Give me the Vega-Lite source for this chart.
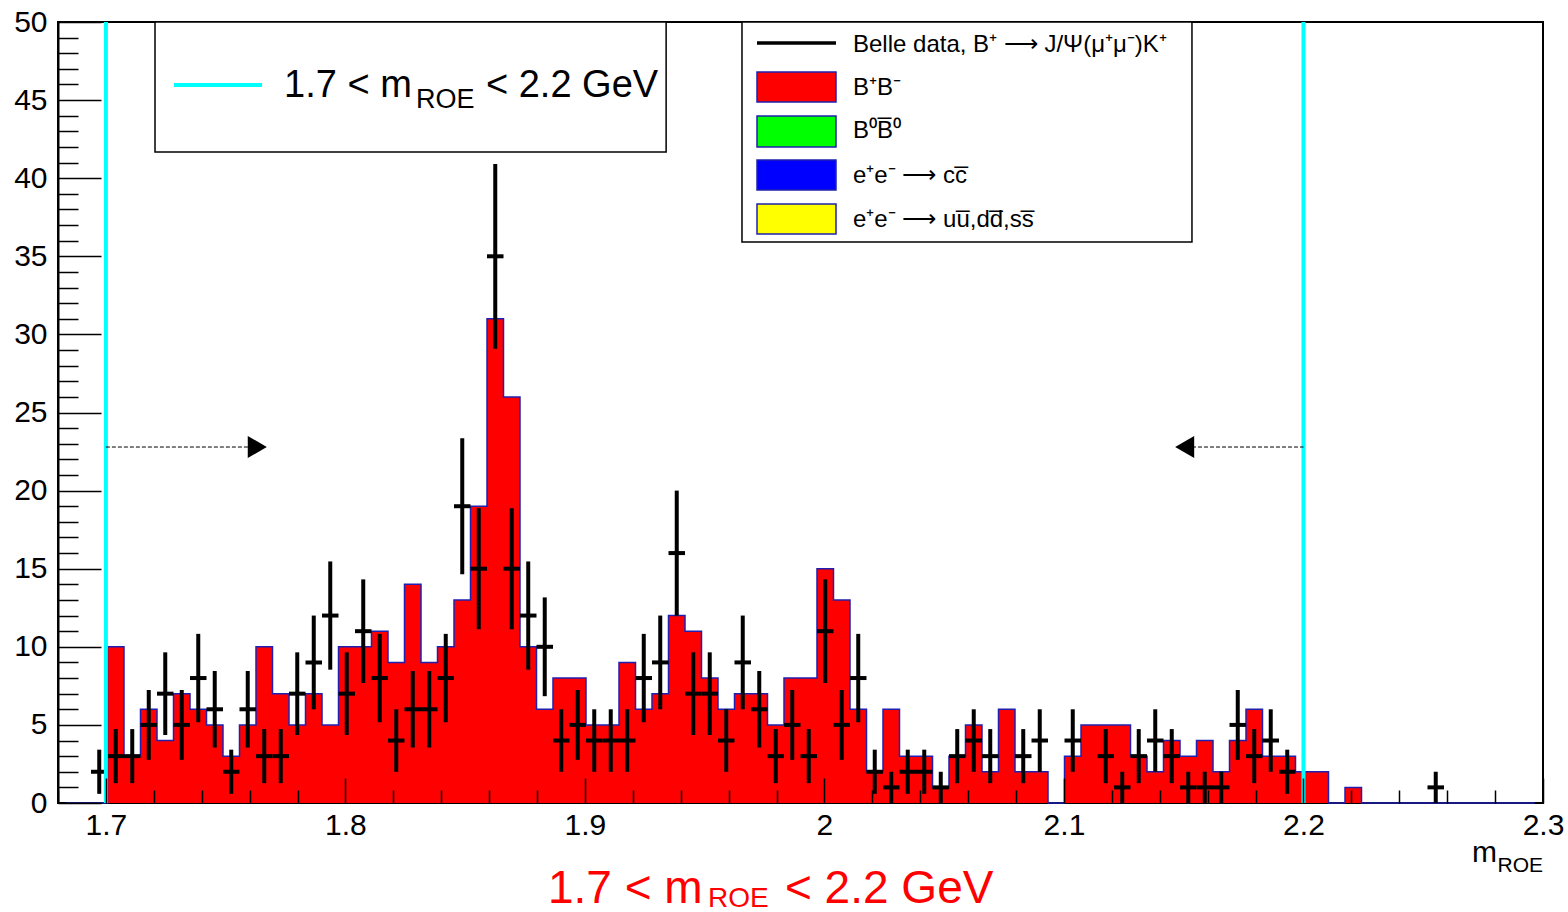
{
  "$schema": "https://vega.github.io/schema/vega-lite/v6.json",
  "width": 1485,
  "height": 781,
  "autosize": {"type": "none"},
  "padding": {"left": 58, "top": 22, "right": 25, "bottom": 109},
  "background": "white",
  "config": {
    "view": {"stroke": "#000000", "strokeWidth": 2},
    "font": "Liberation Sans",
    "text": {"font": "Liberation Sans", "color": "#000000"},
    "axisX": {"tickCount": 31, "grid": false, "domain": false, "labelFontSize": 30, "labelColor": "#000000", "tickColor": "#000000", "tickWidth": 1.5, "labelOverlap": false, "labelFlush": false, "labelBound": false, "zindex": 1},
    "axisY": {"tickCount": 50, "grid": false, "domainColor": "#000000", "domainWidth": 2, "labelFontSize": 30, "labelColor": "#000000", "tickColor": "#000000", "tickWidth": 1.5, "labelOverlap": false, "labelFlush": false, "labelBound": false, "zindex": 1}
  },
  "datasets": {
    "bins": [
      {"m": 1.68344, "mc": 0, "n": 0, "e": 0},
      {"m": 1.69033, "mc": 0, "n": 0, "e": 0},
      {"m": 1.69722, "mc": 0, "n": 2, "e": 1.414},
      {"m": 1.70411, "mc": 10, "n": 3, "e": 1.732},
      {"m": 1.711, "mc": 3, "n": 3, "e": 1.732},
      {"m": 1.71789, "mc": 6, "n": 5, "e": 2.236},
      {"m": 1.72478, "mc": 4, "n": 7, "e": 2.646},
      {"m": 1.73167, "mc": 7, "n": 5, "e": 2.236},
      {"m": 1.73856, "mc": 6, "n": 8, "e": 2.828},
      {"m": 1.74544, "mc": 5, "n": 6, "e": 2.449},
      {"m": 1.75233, "mc": 3, "n": 2, "e": 1.414},
      {"m": 1.75922, "mc": 5, "n": 6, "e": 2.449},
      {"m": 1.76611, "mc": 10, "n": 3, "e": 1.732},
      {"m": 1.773, "mc": 7, "n": 3, "e": 1.732},
      {"m": 1.77989, "mc": 5, "n": 7, "e": 2.646},
      {"m": 1.78678, "mc": 7, "n": 9, "e": 3.0},
      {"m": 1.79367, "mc": 5, "n": 12, "e": 3.464},
      {"m": 1.80056, "mc": 10, "n": 7, "e": 2.646},
      {"m": 1.80744, "mc": 10, "n": 11, "e": 3.317},
      {"m": 1.81433, "mc": 11, "n": 8, "e": 2.828},
      {"m": 1.82122, "mc": 9, "n": 4, "e": 2.0},
      {"m": 1.82811, "mc": 14, "n": 6, "e": 2.449},
      {"m": 1.835, "mc": 9, "n": 6, "e": 2.449},
      {"m": 1.84189, "mc": 10, "n": 8, "e": 2.828},
      {"m": 1.84878, "mc": 13, "n": 19, "e": 4.359},
      {"m": 1.85567, "mc": 19, "n": 15, "e": 3.873},
      {"m": 1.86256, "mc": 31, "n": 35, "e": 5.916},
      {"m": 1.86944, "mc": 26, "n": 15, "e": 3.873},
      {"m": 1.87633, "mc": 10, "n": 12, "e": 3.464},
      {"m": 1.88322, "mc": 6, "n": 10, "e": 3.162},
      {"m": 1.89011, "mc": 8, "n": 4, "e": 2.0},
      {"m": 1.897, "mc": 8, "n": 5, "e": 2.236},
      {"m": 1.90389, "mc": 5, "n": 4, "e": 2.0},
      {"m": 1.91078, "mc": 5, "n": 4, "e": 2.0},
      {"m": 1.91767, "mc": 9, "n": 4, "e": 2.0},
      {"m": 1.92456, "mc": 6, "n": 8, "e": 2.828},
      {"m": 1.93144, "mc": 7, "n": 9, "e": 3.0},
      {"m": 1.93833, "mc": 12, "n": 16, "e": 4.0},
      {"m": 1.94522, "mc": 11, "n": 7, "e": 2.646},
      {"m": 1.95211, "mc": 8, "n": 7, "e": 2.646},
      {"m": 1.959, "mc": 6, "n": 4, "e": 2.0},
      {"m": 1.96589, "mc": 7, "n": 9, "e": 3.0},
      {"m": 1.97278, "mc": 7, "n": 6, "e": 2.449},
      {"m": 1.97967, "mc": 5, "n": 3, "e": 1.732},
      {"m": 1.98656, "mc": 8, "n": 5, "e": 2.236},
      {"m": 1.99344, "mc": 8, "n": 3, "e": 1.732},
      {"m": 2.00033, "mc": 15, "n": 11, "e": 3.317},
      {"m": 2.00722, "mc": 13, "n": 5, "e": 2.236},
      {"m": 2.01411, "mc": 6, "n": 8, "e": 2.828},
      {"m": 2.021, "mc": 2, "n": 2, "e": 1.414},
      {"m": 2.02789, "mc": 6, "n": 1, "e": 1.0},
      {"m": 2.03478, "mc": 3, "n": 2, "e": 1.414},
      {"m": 2.04167, "mc": 3, "n": 2, "e": 1.414},
      {"m": 2.04856, "mc": 1, "n": 1, "e": 1.0},
      {"m": 2.05544, "mc": 3, "n": 3, "e": 1.732},
      {"m": 2.06233, "mc": 5, "n": 4, "e": 2.0},
      {"m": 2.06922, "mc": 2, "n": 3, "e": 1.732},
      {"m": 2.07611, "mc": 6, "n": 0, "e": 0},
      {"m": 2.083, "mc": 2, "n": 3, "e": 1.732},
      {"m": 2.08989, "mc": 2, "n": 4, "e": 2.0},
      {"m": 2.09678, "mc": 0, "n": 0, "e": 0},
      {"m": 2.10367, "mc": 3, "n": 4, "e": 2.0},
      {"m": 2.11056, "mc": 5, "n": 0, "e": 0},
      {"m": 2.11744, "mc": 5, "n": 3, "e": 1.732},
      {"m": 2.12433, "mc": 5, "n": 1, "e": 1.0},
      {"m": 2.13122, "mc": 3, "n": 3, "e": 1.732},
      {"m": 2.13811, "mc": 2, "n": 4, "e": 2.0},
      {"m": 2.145, "mc": 4, "n": 3, "e": 1.732},
      {"m": 2.15189, "mc": 3, "n": 1, "e": 1.0},
      {"m": 2.15878, "mc": 4, "n": 1, "e": 1.0},
      {"m": 2.16567, "mc": 2, "n": 1, "e": 1.0},
      {"m": 2.17256, "mc": 4, "n": 5, "e": 2.236},
      {"m": 2.17944, "mc": 6, "n": 3, "e": 1.732},
      {"m": 2.18633, "mc": 3, "n": 4, "e": 2.0},
      {"m": 2.19322, "mc": 3, "n": 2, "e": 1.414},
      {"m": 2.20011, "mc": 2, "n": 0, "e": 0},
      {"m": 2.207, "mc": 2, "n": 0, "e": 0},
      {"m": 2.21389, "mc": 0, "n": 0, "e": 0},
      {"m": 2.22078, "mc": 1, "n": 0, "e": 0},
      {"m": 2.22767, "mc": 0, "n": 0, "e": 0},
      {"m": 2.23456, "mc": 0, "n": 0, "e": 0},
      {"m": 2.24144, "mc": 0, "n": 0, "e": 0},
      {"m": 2.24833, "mc": 0, "n": 0, "e": 0},
      {"m": 2.25522, "mc": 0, "n": 1, "e": 1.0},
      {"m": 2.26211, "mc": 0, "n": 0, "e": 0},
      {"m": 2.269, "mc": 0, "n": 0, "e": 0},
      {"m": 2.27589, "mc": 0, "n": 0, "e": 0},
      {"m": 2.28278, "mc": 0, "n": 0, "e": 0},
      {"m": 2.28967, "mc": 0, "n": 0, "e": 0},
      {"m": 2.29656, "mc": 0, "n": 0, "e": 0}
    ],
    "one": [{}]
  },
  "layer": [
    {
      "data": {"name": "bins"},
      "mark": {"type": "area", "interpolate": "step", "color": "#ff0000", "opacity": 1, "fillOpacity": 1, "line": {"color": "#2020b0", "strokeWidth": 1.5}},
      "encoding": {
        "x": {
          "field": "m", "type": "quantitative",
          "scale": {"domain": [1.68, 2.3], "nice": false, "zero": false},
          "axis": {
            "title": null, "zindex": 1, "grid": false, "domain": false, "tickCount": 31,
            "tickSize": {"condition": {"test": "abs(datum.value*10 - round(datum.value*10)) < 0.001", "value": -25}, "value": -13},
            "tickColor": "#000000", "tickWidth": 1.5,
            "labelExpr": "abs(datum.value*10 - round(datum.value*10)) < 0.001 ? format(datum.value, '.1~f') : ''",
            "labelFont": "Liberation Sans", "labelFontSize": 30, "labelColor": "#000000",
            "labelPadding": 32, "labelOverlap": false, "labelFlush": false, "labelBound": false
          }
        },
        "y": {
          "field": "mc", "type": "quantitative", "stack": null,
          "scale": {"domain": [0, 50], "nice": false},
          "axis": {
            "title": null, "zindex": 1, "grid": false, "domain": true, "domainColor": "#000000", "domainWidth": 2, "tickCount": 50,
            "tickSize": {"condition": {"test": "datum.value % 5 === 0", "value": -43}, "value": -20},
            "tickColor": "#000000", "tickWidth": 1.5,
            "labelExpr": "datum.value % 5 === 0 ? datum.label : ''",
            "labelFont": "Liberation Sans", "labelFontSize": 30, "labelColor": "#000000",
            "labelPadding": 54, "labelOverlap": false, "labelBound": false, "labelFlush": false
          }
        }
      }
    },
    {
      "data": {"name": "bins"},
      "transform": [{"filter": "datum.n > 0"}],
      "mark": {"type": "errorbar", "color": "#000000", "thickness": 4},
      "encoding": {
        "x": {"field": "m", "type": "quantitative"},
        "y": {"field": "n", "type": "quantitative"},
        "yError": {"field": "e"}
      }
    },
    {
      "data": {"name": "bins"},
      "transform": [{"filter": "datum.n > 0"}],
      "mark": {"type": "tick", "orient": "horizontal", "size": 16.5, "thickness": 4, "color": "#000000", "opacity": 1},
      "encoding": {
        "x": {"field": "m", "type": "quantitative"},
        "y": {"field": "n", "type": "quantitative"}
      }
    },
    {
      "data": {"values": [{"cut": 1.7}, {"cut": 2.2}]},
      "mark": {"type": "rule", "color": "#00ffff", "strokeWidth": 4},
      "encoding": {"x": {"field": "cut", "type": "quantitative"}}
    },
    {
      "data": {"name": "one"},
      "mark": {"type": "rule", "color": "#000000", "strokeWidth": 1, "strokeDash": [4, 2]},
      "encoding": {"x": {"datum": 1.7}, "x2": {"datum": 1.76016}, "y": {"datum": 22.79}}
    },
    {
      "data": {"name": "one"},
      "mark": {"type": "rule", "color": "#000000", "strokeWidth": 1, "strokeDash": [4, 2]},
      "encoding": {"x": {"datum": 2.14844}, "x2": {"datum": 2.2}, "y": {"datum": 22.79}}
    },
    {
      "data": {"name": "one"},
      "mark": {"type": "point", "shape": "triangle-right", "filled": true, "color": "#000000", "size": 484, "opacity": 1},
      "encoding": {"x": {"datum": 1.76321}, "y": {"datum": 22.79}}
    },
    {
      "data": {"name": "one"},
      "mark": {"type": "point", "shape": "triangle-left", "filled": true, "color": "#000000", "size": 484, "opacity": 1},
      "encoding": {"x": {"datum": 2.1504}, "y": {"datum": 22.79}}
    },
    {
      "data": {"name": "one"},
      "mark": {"type": "rect", "fill": "#ffffff", "stroke": "#000000", "strokeWidth": 1.5},
      "encoding": {"x": {"datum": 1.7205}, "x2": {"datum": 1.9339}, "y": {"datum": 41.68}, "y2": {"datum": 50}}
    },
    {
      "data": {"name": "one"},
      "mark": {"type": "rule", "color": "#00ffff", "strokeWidth": 4},
      "encoding": {"x": {"datum": 1.7284}, "x2": {"datum": 1.7652}, "y": {"datum": 45.97}}
    },
    {
      "data": {"name": "one"},
      "mark": {"type": "text", "text": "1.7 < m", "fontSize": 38, "align": "left", "baseline": "alphabetic"},
      "encoding": {"x": {"datum": 1.77436}, "y": {"datum": 45.2}}
    },
    {
      "data": {"name": "one"},
      "mark": {"type": "text", "text": "ROE", "fontSize": 27, "align": "left", "baseline": "alphabetic"},
      "encoding": {"x": {"datum": 1.82947}, "y": {"datum": 44.49}}
    },
    {
      "data": {"name": "one"},
      "mark": {"type": "text", "text": "< 2.2 GeV", "fontSize": 38, "align": "left", "baseline": "alphabetic"},
      "encoding": {"x": {"datum": 1.85869}, "y": {"datum": 45.2}}
    },
    {
      "data": {"name": "one"},
      "mark": {"type": "rect", "fill": "#ffffff", "stroke": "#000000", "strokeWidth": 1.5},
      "encoding": {"x": {"datum": 1.96557}, "x2": {"datum": 2.15344}, "y": {"datum": 35.916}, "y2": {"datum": 50}}
    },
    {
      "data": {"name": "one"},
      "mark": {"type": "rule", "color": "#000000", "strokeWidth": 3.5},
      "encoding": {"x": {"datum": 1.97184}, "x2": {"datum": 2.00482}, "y": {"datum": 48.656}}
    },
    {
      "data": {"name": "one"},
      "mark": {"type": "rect", "fill": "#ff0000", "stroke": "#2020b0", "strokeWidth": 1.5},
      "encoding": {"x": {"datum": 1.97184}, "x2": {"datum": 2.00482}, "y": {"datum": 44.88}, "y2": {"datum": 46.8}}
    },
    {
      "data": {"name": "one"},
      "mark": {"type": "rect", "fill": "#00ff00", "stroke": "#2020b0", "strokeWidth": 1.5},
      "encoding": {"x": {"datum": 1.97184}, "x2": {"datum": 2.00482}, "y": {"datum": 41.99}, "y2": {"datum": 43.98}}
    },
    {
      "data": {"name": "one"},
      "mark": {"type": "rect", "fill": "#0000ff", "stroke": "#2020b0", "strokeWidth": 1.5},
      "encoding": {"x": {"datum": 1.97184}, "x2": {"datum": 2.00482}, "y": {"datum": 39.24}, "y2": {"datum": 41.17}}
    },
    {
      "data": {"name": "one"},
      "mark": {"type": "rect", "fill": "#ffff00", "stroke": "#2020b0", "strokeWidth": 1.5},
      "encoding": {"x": {"datum": 1.97184}, "x2": {"datum": 2.00482}, "y": {"datum": 36.43}, "y2": {"datum": 38.35}}
    },
    {
      "data": {"name": "one"},
      "mark": {"type": "text", "text": "Belle data, B⁺ ⟶ J/Ψ(μ⁺μ⁻)K⁺", "fontSize": 24, "align": "left", "baseline": "middle"},
      "encoding": {"x": {"datum": 2.01192}, "y": {"datum": 48.528}}
    },
    {
      "data": {"name": "one"},
      "mark": {"type": "text", "text": "B⁺B⁻", "fontSize": 24, "align": "left", "baseline": "middle"},
      "encoding": {"x": {"datum": 2.01192}, "y": {"datum": 45.775}}
    },
    {
      "data": {"name": "one"},
      "mark": {"type": "text", "text": "B⁰B̅⁰", "fontSize": 24, "align": "left", "baseline": "middle"},
      "encoding": {"x": {"datum": 2.01192}, "y": {"datum": 43.022}}
    },
    {
      "data": {"name": "one"},
      "mark": {"type": "text", "text": "e⁺e⁻ ⟶ cc̅", "fontSize": 24, "align": "left", "baseline": "middle"},
      "encoding": {"x": {"datum": 2.01192}, "y": {"datum": 40.141}}
    },
    {
      "data": {"name": "one"},
      "mark": {"type": "text", "text": "e⁺e⁻ ⟶ uu̅,dd̅,ss̅", "fontSize": 24, "align": "left", "baseline": "middle"},
      "encoding": {"x": {"datum": 2.01192}, "y": {"datum": 37.324}}
    },
    {
      "data": {"name": "one"},
      "mark": {"type": "text", "text": "m", "fontSize": 30, "align": "right", "baseline": "alphabetic"},
      "encoding": {"x": {"datum": 2.28078}, "y": {"datum": -3.78}}
    },
    {
      "data": {"name": "one"},
      "mark": {"type": "text", "text": "ROE", "fontSize": 21, "align": "right", "baseline": "alphabetic"},
      "encoding": {"x": {"datum": 2.3}, "y": {"datum": -4.417}}
    },
    {
      "data": {"name": "one"},
      "mark": {"type": "text", "text": "1.7 < m", "fontSize": 46, "align": "left", "baseline": "alphabetic", "color": "#ff0000"},
      "encoding": {"x": {"datum": 1.88458}, "y": {"datum": -6.4}}
    },
    {
      "data": {"name": "one"},
      "mark": {"type": "text", "text": "ROE", "fontSize": 28, "align": "left", "baseline": "alphabetic", "color": "#ff0000"},
      "encoding": {"x": {"datum": 1.95138}, "y": {"datum": -6.66}}
    },
    {
      "data": {"name": "one"},
      "mark": {"type": "text", "text": "< 2.2 GeV", "fontSize": 46, "align": "left", "baseline": "alphabetic", "color": "#ff0000"},
      "encoding": {"x": {"datum": 1.98352}, "y": {"datum": -6.4}}
    }
  ]
}
